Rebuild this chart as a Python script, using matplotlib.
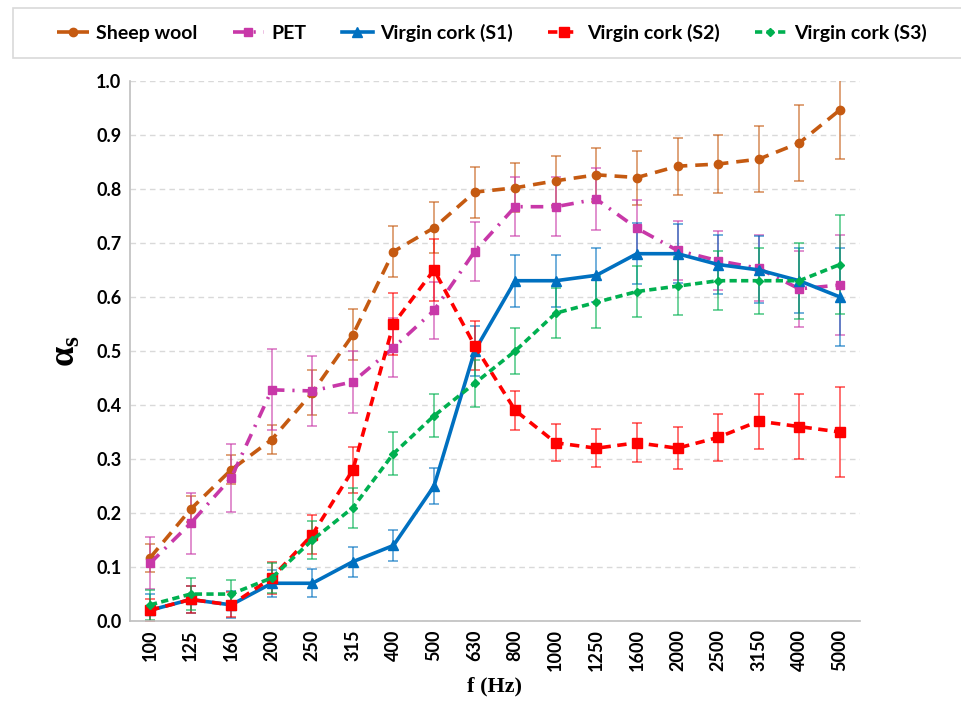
import numpy as np
import matplotlib
matplotlib.use('Agg')
import matplotlib.pyplot as plt
from matplotlib.patches import Rectangle

# Frequency bands (1/3 octave)
freqs = ['100', '125', '160', '200', '250', '315', '400', '500', '630', '800',
         '1000', '1250', '1600', '2000', '2500', '3150', '4000', '5000']

# Sound absorption coefficients
sheep_wool = [0.117, 0.207, 0.280, 0.336, 0.423, 0.530, 0.684, 0.728, 0.794, 0.802,
              0.815, 0.826, 0.821, 0.842, 0.846, 0.855, 0.885, 0.946]
sheep_err = [0.026, 0.024, 0.027, 0.027, 0.042, 0.047, 0.048, 0.047, 0.047, 0.045,
             0.045, 0.050, 0.050, 0.053, 0.054, 0.061, 0.070, 0.090]

pet = [0.107, 0.181, 0.265, 0.428, 0.426, 0.443, 0.506, 0.575, 0.684, 0.767,
       0.767, 0.781, 0.727, 0.686, 0.667, 0.653, 0.615, 0.622]
pet_err = [0.048, 0.056, 0.063, 0.075, 0.065, 0.057, 0.055, 0.052, 0.055, 0.055,
           0.055, 0.057, 0.053, 0.054, 0.055, 0.061, 0.070, 0.092]

cork_s1 = [0.02, 0.04, 0.03, 0.07, 0.07, 0.11, 0.14, 0.25, 0.50, 0.63,
           0.63, 0.64, 0.68, 0.68, 0.66, 0.65, 0.63, 0.60]
cork_s1_err = [0.030, 0.025, 0.025, 0.025, 0.026, 0.028, 0.028, 0.033, 0.047, 0.048,
               0.048, 0.050, 0.056, 0.055, 0.055, 0.062, 0.060, 0.090]

cork_s2 = [0.02, 0.04, 0.03, 0.08, 0.16, 0.28, 0.55, 0.65, 0.51, 0.39,
           0.33, 0.32, 0.33, 0.32, 0.34, 0.37, 0.36, 0.35]
cork_s2_err = [0.020, 0.025, 0.023, 0.030, 0.036, 0.043, 0.058, 0.057, 0.045, 0.036,
               0.034, 0.035, 0.036, 0.039, 0.043, 0.051, 0.060, 0.083]

cork_s3 = [0.03, 0.05, 0.05, 0.08, 0.15, 0.21, 0.31, 0.38, 0.44, 0.50,
           0.57, 0.59, 0.61, 0.62, 0.63, 0.63, 0.63, 0.66]
cork_s3_err = [0.028, 0.030, 0.026, 0.028, 0.035, 0.037, 0.040, 0.040, 0.043, 0.042,
               0.046, 0.048, 0.048, 0.053, 0.055, 0.061, 0.070, 0.092]

series = [
    ('Sheep wool', sheep_wool, sheep_err, '#C55A11', 'o', (0, (3.5, 2.2)), 6),
    ('PET', pet, pet_err, '#C838A8', 's', (0, (3.5, 2.2, 0.6, 2.2)), 5.5),
    ('Virgin cork (S1)', cork_s1, cork_s1_err, '#0070C0', '^', '-', 6.5),
    ('Virgin cork (S2)', cork_s2, cork_s2_err, '#FF0000', 's', (0, (2.6, 1.8)), 7),
    ('Virgin cork (S3)', cork_s3, cork_s3_err, '#00B050', 'D', (0, (2.0, 1.2)), 4.5),
]

plt.rcParams['font.family'] = ['Lato', 'DejaVu Sans']
plt.rcParams['mathtext.fontset'] = 'custom'
plt.rcParams['mathtext.rm'] = 'Liberation Serif:bold'
plt.rcParams['mathtext.it'] = 'Liberation Serif:bold'
plt.rcParams['mathtext.bf'] = 'Liberation Serif:bold'

fig = plt.figure(figsize=(9.61, 7.09), dpi=100)
ax = fig.add_axes([0.135, 0.124, 0.76, 0.762])

x = np.arange(len(freqs))
handles = []
for name, vals, err, color, marker, ls, ms in series:
    ax.errorbar(x, vals, yerr=err, fmt='none', ecolor=color, alpha=0.6,
                elinewidth=1.3, capsize=3.5, capthick=1.3, zorder=2)
    line, = ax.plot(x, vals, color=color, linestyle=ls, linewidth=2.6,
                    marker=marker, markersize=ms, label=name, zorder=3)
    handles.append(line)

ax.set_xlim(-0.5, len(freqs) - 0.5)
ax.set_ylim(0, 1.0)
ax.set_yticks(np.arange(0, 1.01, 0.1))
ax.set_yticklabels([f'{v:.1f}' for v in np.arange(0, 1.01, 0.1)],
                   fontsize=13, fontweight='bold')
ax.set_xticks(x)
ax.set_xticklabels(freqs, rotation=90, fontsize=13, fontweight='bold')
ax.tick_params(length=0, pad=6)

ax.grid(axis='y', color='#D9D9D9', linestyle=(0, (4, 3)), linewidth=1)
ax.set_axisbelow(True)
for side in ['top', 'right']:
    ax.spines[side].set_visible(False)
for side in ['left', 'bottom']:
    ax.spines[side].set_color('#BFBFBF')
    ax.spines[side].set_linewidth(1.2)

ax.set_xlabel('f (Hz)', fontsize=16, fontweight='bold',
              family='Liberation Serif', labelpad=4)
ax.set_ylabel(r'$\mathrm{\alpha_s}$', fontsize=26, labelpad=10)

# legend box spanning the top of the figure
fig.patches.append(Rectangle((13 / 961, 1 - 58 / 709), 1.0, 50 / 709,
                             transform=fig.transFigure, facecolor='white',
                             edgecolor='#D9D9D9', linewidth=1.2))
fig.legend(handles=handles, loc='center', ncol=5,
           bbox_to_anchor=(0.512, 1 - 33 / 709), frameon=False,
           prop={'weight': 'bold', 'size': 14}, handlelength=1.6,
           handletextpad=0.4, columnspacing=1.8)

fig.savefig('out.png', dpi=100)
